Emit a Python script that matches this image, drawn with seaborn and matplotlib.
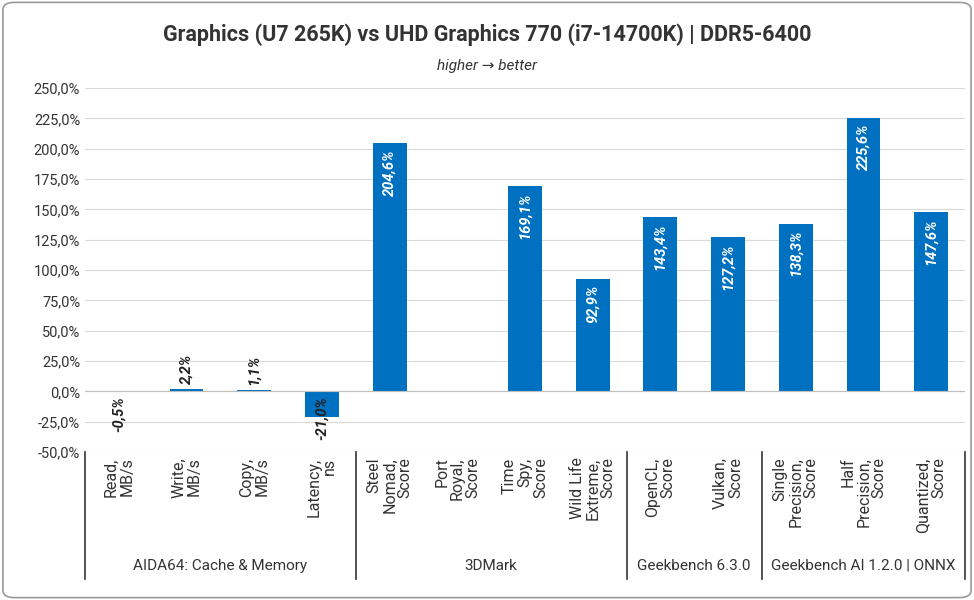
import matplotlib
matplotlib.use("Agg")
import matplotlib.pyplot as plt
import seaborn as sns
import numpy as np
import pandas as pd
from matplotlib.patches import FancyBboxPatch

categories = ["Read,\nMB/s", "Write,\nMB/s", "Copy,\nMB/s", "Latency,\nns",
              "Steel\nNomad,\nScore", "Port\nRoyal,\nScore", "Time\nSpy,\nScore",
              "Wild Life\nExtreme,\nScore", "OpenCL,\nScore", "Vulkan,\nScore",
              "Single\nPrecision,\nScore", "Half\nPrecision,\nScore", "Quantized,\nScore"]
values = [-0.5, 2.2, 1.1, -21.0, 204.6, np.nan, 169.1, 92.9, 143.4, 127.2, 138.3, 225.6, 147.6]
groups = ["AIDA64: Cache & Memory", "3DMark", "Geekbench 6.3.0", "Geekbench AI 1.2.0 | ONNX"]
group_sizes = [4, 4, 2, 3]
yticks = list(range(-50, 251, 25))

plt.rcParams["font.family"] = ["Roboto", "DejaVu Sans"]
fig = plt.figure(figsize=(9.74, 6.0), dpi=100)
ax = fig.add_axes([85/974, 1-452/600, 880/974, 364/600])
df = pd.DataFrame({"cat": categories, "val": values})
sns.barplot(data=df, x="cat", y="val", color="#0070C0", width=0.5, ax=ax, saturation=1)
ax.set_xlim(-0.5, len(categories)-0.5)
ax.set_ylim(-50, 250)
ax.set_yticks(yticks)
ax.set_yticklabels([f"{t:.1f}%".replace(".", ",") for t in yticks], fontsize=10.5, color="#333333")
ax.yaxis.grid(True, color="#d9d9d9", lw=0.8)
ax.set_axisbelow(True)
for s in ["top", "right", "left", "bottom"]:
    ax.spines[s].set_visible(False)
ax.tick_params(axis="y", length=0)
ax.axhline(0, color="#bfbfbf", lw=0.8)
ax.set_xlabel(""); ax.set_ylabel("")
ax.set_xticks([])

for i, v in enumerate(values):
    if np.isnan(v):
        continue
    txt = f"{v:.1f}%".replace(".", ",")
    kw = dict(rotation=90, ha="center", fontsize=10.5, fontweight="bold", fontstyle="italic")
    if abs(v) > 40:
        ax.text(i, v - 5, txt, va="top", color="white", **kw)
    elif v >= 0:
        ax.text(i, v + 4, txt, va="bottom", color="#222222", **kw)
    else:
        ax.text(i, -22 if v < -5 else -19, txt, va="center", color="#222222", **kw)

trans = ax.get_xaxis_transform()
for i, c in enumerate(categories):
    ax.text(i, -0.015, c, rotation=90, ha="center", va="top", ma="right",
            fontsize=11.5, color="#333333", transform=trans, linespacing=1.05)
edges = np.concatenate([[0], np.cumsum(group_sizes)]) - 0.5
for e in edges:
    ax.plot([e, e], [0, -0.35], transform=trans, color="#333333", lw=1.2, clip_on=False)
for g, a, b in zip(groups, edges[:-1], edges[1:]):
    ax.text((a+b)/2, -0.313, g, ha="center", va="center", fontsize=11,
            color="#333333", transform=trans)

fig.text(0.5, 1-35/600, "Graphics (U7 265K) vs UHD Graphics 770 (i7-14700K) | DDR5-6400",
         ha="center", va="center", fontsize=15.5, fontweight="bold", color="#333333")
fig.text(0.5, 1-66/600, "higher \u2192 better", ha="center", va="center",
         fontsize=11, fontstyle="italic", color="#333333")
fig.patches.append(FancyBboxPatch((0.003, 0.004), 0.994, 0.992, boxstyle="round,pad=0,rounding_size=0.012",
                                  transform=fig.transFigure, fill=False, ec="#999999", lw=1.2))
fig.savefig("out.png", dpi=100)
